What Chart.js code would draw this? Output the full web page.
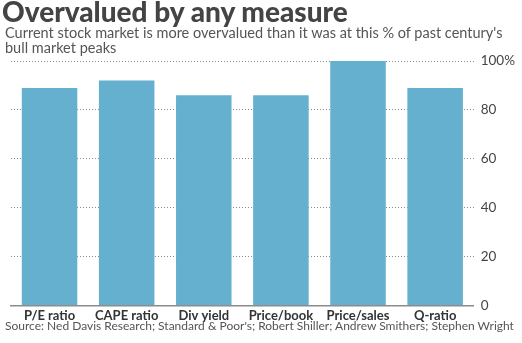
<!DOCTYPE html>
<html>
<head>
<meta charset="utf-8">
<script src="https://cdn.jsdelivr.net/npm/chart.js@4"></script>
<style>
  html, body { margin: 0; padding: 0; background: #fff; }
  #wrap { position: relative; width: 522px; height: 343px; overflow: hidden; font-family: Lato, "Open Sans", sans-serif; }
  #title { position: absolute; left: 2px; top: -6px; font-size: 28px; font-weight: 900; color: #444; white-space: nowrap; }
  #subtitle { position: absolute; left: 5px; top: 25px; width: 515px; font-size: 14.5px; line-height: 15px; color: #555; }
  #source { position: absolute; left: 5px; top: 318px; font-size: 12px; color: #555; white-space: nowrap; }
  #chart { position: absolute; left: 0; top: 0; }
</style>
</head>
<body>
<div id="wrap">
  <canvas id="chart" width="522" height="343"></canvas>
  <div id="title">Overvalued by any measure</div>
  <div id="subtitle">Current stock market is more overvalued than it was at this % of past century's bull market peaks</div>
  <div id="source">Source: Ned Davis Research; Standard &amp; Poor's; Robert Shiller; Andrew Smithers; Stephen Wright</div>
</div>
<script>
const categories = ['P/E ratio', 'CAPE ratio', 'Div yield', 'Price/book', 'Price/sales', 'Q-ratio'];
const percentOfPeak = [89, 92, 86, 86, 100, 89];
const tickValues = [0, 20, 40, 60, 80, 100];

const ctx = document.getElementById('chart').getContext('2d');

new Chart(ctx, {
    type: 'bar',
    data: {
        labels: categories,
        datasets: [{
            data: percentOfPeak,
            backgroundColor: '#65b0cf',
            barPercentage: 0.72,
            categoryPercentage: 1
        }]
    },
    options: {
        responsive: false,
        animation: false,
        layout: {
            padding: { top: 61, left: 11, right: 0, bottom: 16 }
        },
        plugins: {
            legend: { display: false },
            tooltip: { enabled: false }
        },
        scales: {
            x: {
                grid: { display: false, drawTicks: false },
                border: { color: '#8c8c8c', width: 1.5 },
                ticks: {
                    color: '#333',
                    padding: 3,
                    font: { family: 'Lato', size: 13, weight: 'bold' }
                }
            },
            y: {
                position: 'right',
                min: 0,
                max: 100,
                afterBuildTicks: axis => {
                    axis.ticks = tickValues.map(v => ({ value: v }));
                },
                grid: {
                    color: '#8a8a8a',
                    lineWidth: 1,
                    drawTicks: false
                },
                border: { display: false, dash: [1, 2] },
                ticks: {
                    color: '#444',
                    padding: 7,
                    font: { family: 'Lato', size: 13.5 },
                    callback: v => v === 100 ? '100%' : v
                }
            }
        }
    }
});
</script>
</body>
</html>
